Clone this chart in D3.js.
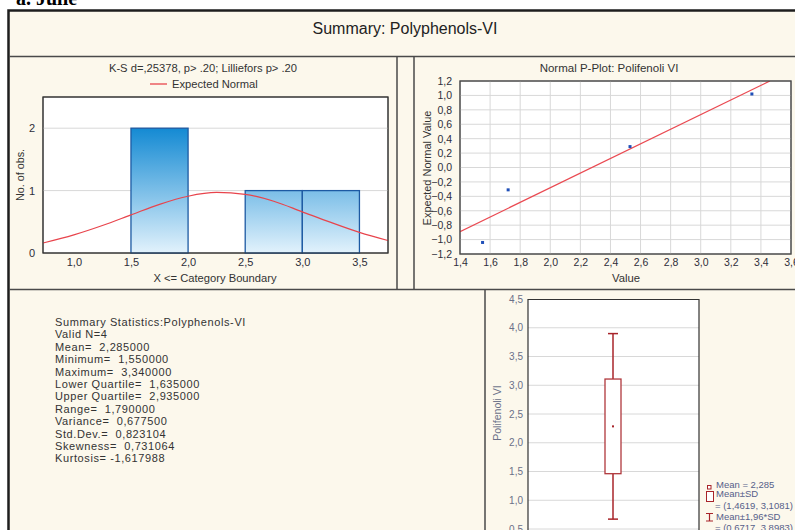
<!DOCTYPE html>
<html lang="en">
<head><meta charset="utf-8"/>
<script src="https://cdn.jsdelivr.net/npm/d3@7/dist/d3.min.js"></script>
<style>
body { margin:0; background:#fff; }
text { font-family: "Liberation Sans", Arial, sans-serif; white-space: pre; }
.grid line { stroke:#d8d8d8; stroke-width:1; }
.frame { fill:#fff; stroke:#333; stroke-width:1; }
.sep { stroke:#4a4a4a; stroke-width:1.5; }
</style>
</head>
<body>
<svg id="chart" width="795" height="530"></svg>
<script>

// histogram
var binLo = [1.5, 2.5, 3.0];
var binHi = [2.0, 3.0, 3.5];
var binCount = [2, 1, 1];
var histTicksX = [1.0, 1.5, 2.0, 2.5, 3.0, 3.5];
var histTicksY = [0, 1, 2];
// expected normal curve
var normX = [0.73, 1.0, 1.25, 1.5, 1.75, 2.0, 2.25, 2.5, 2.75, 3.0, 3.25, 3.5, 3.75];
var normY = [0.16, 0.29, 0.44, 0.61, 0.78, 0.91, 0.97, 0.94, 0.83, 0.66, 0.49, 0.33, 0.20];

// normal p-plot
var obsValue = [1.55, 1.72, 2.53, 3.34];
var expNormal = [-1.04, -0.31, 0.29, 1.02];
var fitX = [1.4, 3.46];
var fitY = [-0.89, 1.2];
var ppTicksX = [1.4, 1.6, 1.8, 2.0, 2.2, 2.4, 2.6, 2.8, 3.0, 3.2, 3.4, 3.6];
var ppTicksY = [-1.2, -1.0, -0.8, -0.6, -0.4, -0.2, 0.0, 0.2, 0.4, 0.6, 0.8, 1.0, 1.2];

// box plot
var boxMean = 2.285;
var boxSD = [1.4619, 3.1081];
var boxCI = [0.6717, 3.8983];
var boxTicksY = [0.5, 1.0, 1.5, 2.0, 2.5, 3.0, 3.5, 4.0, 4.5];
var legendLines = ["Mean = 2,285", "Mean\u00b1SD", "= (1,4619, 3,1081)", "Mean\u00b11,96*SD", "= (0,6717, 3,8983)"];

var statLines = [
	"Summary Statistics:Polyphenols-VI",
	"Valid N=4",
	"Mean=  2,285000",
	"Minimum=  1,550000",
	"Maximum=  3,340000",
	"Lower Quartile=  1,635000",
	"Upper Quartile=  2,935000",
	"Range=  1,790000",
	"Variance=  0,677500",
	"Std.Dev.=  0,823104",
	"Skewness=  0,731064",
	"Kurtosis= -1,617988"
];

var loc = d3.formatLocale({decimal: ",", thousands: ".", grouping: [3], currency: ["", ""]});
var f1 = loc.format(".1f");

var svg = d3.select("#chart");
var cream = "#fcf8ec";

// caption cut off at the top
svg.append("text").attr("x", 16).attr("y", 5)
	.style("font-family", "'Liberation Serif', serif").style("font-size", "20px").style("font-weight", "bold")
	.text("a. Julie");

// outer frame and panels
svg.append("rect").attr("x", 8).attr("y", 10).attr("width", 790).attr("height", 525).attr("fill", cream);
svg.append("path").attr("d", "M8.5,532V10.5H800").attr("fill", "none").attr("stroke", "#1e1e1e").attr("stroke-width", 2.5);
svg.append("line").attr("class", "sep").attr("x1", 9).attr("x2", 795).attr("y1", 56.5).attr("y2", 56.5);
svg.append("line").attr("class", "sep").attr("x1", 397).attr("x2", 397).attr("y1", 56).attr("y2", 289);
svg.append("line").attr("class", "sep").attr("x1", 414).attr("x2", 414).attr("y1", 56).attr("y2", 289);
svg.append("line").attr("class", "sep").attr("x1", 9).attr("x2", 795).attr("y1", 289.5).attr("y2", 289.5);
svg.append("line").attr("class", "sep").attr("x1", 485).attr("x2", 485).attr("y1", 289).attr("y2", 530);

svg.append("text").attr("x", 405).attr("y", 34).attr("text-anchor", "middle")
	.style("font-size", "16px").attr("fill", "#222").text("Summary: Polyphenols-VI");

// ---------- histogram ----------
var hx = d3.scaleLinear().domain([0.73, 3.75]).range([43, 388]);
var hy = d3.scaleLinear().domain([0, 2.5]).range([253, 97]);

var defs = svg.append("defs");
var grad = defs.append("linearGradient").attr("id", "barGrad")
	.attr("gradientUnits", "userSpaceOnUse")
	.attr("x1", 0).attr("x2", 0).attr("y1", hy(2)).attr("y2", hy(0));
grad.append("stop").attr("offset", "0%").attr("stop-color", "#148ad3");
grad.append("stop").attr("offset", "100%").attr("stop-color", "#e2f2fc");
defs.append("clipPath").attr("id", "hclip").append("rect")
	.attr("x", hx.range()[0]).attr("y", hy.range()[1])
	.attr("width", hx.range()[1] - hx.range()[0]).attr("height", hy.range()[0] - hy.range()[1]);

svg.append("rect").attr("class", "frame").attr("x", hx.range()[0]).attr("y", hy.range()[1])
	.attr("width", hx.range()[1] - hx.range()[0]).attr("height", hy.range()[0] - hy.range()[1]);

svg.append("g").attr("class", "grid")
	.selectAll("line").data(histTicksY.filter(d => d > 0)).enter().append("line")
	.attr("x1", hx.range()[0]).attr("x2", hx.range()[1])
	.attr("y1", d => hy(d)).attr("y2", d => hy(d));

svg.append("g").selectAll("rect").data(binCount).enter().append("rect")
	.attr("x", (d, i) => hx(binLo[i]))
	.attr("width", (d, i) => hx(binHi[i]) - hx(binLo[i]))
	.attr("y", d => hy(d))
	.attr("height", d => hy(0) - hy(d))
	.attr("fill", "url(#barGrad)").attr("stroke", "#1d5aa3").attr("stroke-width", 1.3);

var normLine = d3.line().curve(d3.curveMonotoneX)
	.x((d, i) => hx(normX[i])).y(d => hy(d));
svg.append("path").attr("d", normLine(normY)).attr("clip-path", "url(#hclip)")
	.attr("fill", "none").attr("stroke", "#e8444c").attr("stroke-width", 1.2);

svg.append("rect").attr("x", hx.range()[0]).attr("y", hy.range()[1])
	.attr("width", hx.range()[1] - hx.range()[0]).attr("height", hy.range()[0] - hy.range()[1])
	.attr("fill", "none").attr("stroke", "#333");

var hax = svg.append("g").attr("transform", "translate(0," + hy(0) + ")")
	.call(d3.axisBottom(hx).tickValues(histTicksX).tickFormat(f1).tickSize(0).tickPadding(5));
hax.select(".domain").remove();
var hay = svg.append("g").attr("transform", "translate(" + hx.range()[0] + ",0)")
	.call(d3.axisLeft(hy).tickValues(histTicksY).tickFormat(d3.format("d")).tickSize(0).tickPadding(8));
hay.select(".domain").remove();
svg.selectAll(".tick text").style("font-size", "11px").attr("fill", "#2e2e3a");

svg.append("text").attr("x", 203).attr("y", 72).attr("text-anchor", "middle")
	.style("font-size", "11.2px").attr("fill", "#333").text("K-S d=,25378, p> .20; Lilliefors p> .20");
svg.append("line").attr("x1", 150).attr("x2", 167).attr("y1", 84).attr("y2", 84)
	.attr("stroke", "#e8444c").attr("stroke-width", 1.3);
svg.append("text").attr("x", 172).attr("y", 88)
	.style("font-size", "11.2px").attr("fill", "#333").text("Expected Normal");
svg.append("text").attr("transform", "translate(24,175) rotate(-90)").attr("text-anchor", "middle")
	.style("font-size", "10.8px").attr("fill", "#333").text("No. of obs.");
svg.append("text").attr("x", 215).attr("y", 281.5).attr("text-anchor", "middle")
	.style("font-size", "11.2px").attr("fill", "#333").text("X <= Category Boundary");

// ---------- normal p-plot ----------
var px = d3.scaleLinear().domain([1.4, 3.6]).range([460, 791]);
var py = d3.scaleLinear().domain([-1.2, 1.2]).range([254, 81]);

defs.append("clipPath").attr("id", "pclip").append("rect")
	.attr("x", px.range()[0]).attr("y", py.range()[1])
	.attr("width", px.range()[1] - px.range()[0]).attr("height", py.range()[0] - py.range()[1]);

svg.append("rect").attr("class", "frame").attr("x", px.range()[0]).attr("y", py.range()[1])
	.attr("width", px.range()[1] - px.range()[0]).attr("height", py.range()[0] - py.range()[1]);
var pg = svg.append("g").attr("class", "grid");
pg.selectAll(".vx").data(ppTicksX).enter().append("line")
	.attr("x1", d => px(d)).attr("x2", d => px(d)).attr("y1", py.range()[0]).attr("y2", py.range()[1]);
pg.selectAll(".hy").data(ppTicksY).enter().append("line")
	.attr("x1", px.range()[0]).attr("x2", px.range()[1]).attr("y1", d => py(d)).attr("y2", d => py(d));

svg.append("path").attr("clip-path", "url(#pclip)")
	.attr("d", d3.line().x((d, i) => px(fitX[i])).y(d => py(d))(fitY))
	.attr("stroke", "#ea4a52").attr("stroke-width", 1.3).attr("fill", "none");

svg.append("g").selectAll("rect").data(obsValue).enter().append("rect")
	.attr("x", d => px(d) - 1.5).attr("y", (d, i) => py(expNormal[i]) - 1.5)
	.attr("width", 3).attr("height", 3).attr("fill", "#1f4fb8");

svg.append("rect").attr("x", px.range()[0]).attr("y", py.range()[1])
	.attr("width", px.range()[1] - px.range()[0]).attr("height", py.range()[0] - py.range()[1])
	.attr("fill", "none").attr("stroke", "#333");

var pax = svg.append("g").attr("transform", "translate(0," + py(-1.2) + ")")
	.call(d3.axisBottom(px).tickValues(ppTicksX).tickFormat(f1).tickSize(0).tickPadding(5));
pax.select(".domain").remove();
var pay = svg.append("g").attr("transform", "translate(" + px.range()[0] + ",0)")
	.call(d3.axisLeft(py).tickValues(ppTicksY).tickFormat(f1).tickSize(0).tickPadding(8));
pay.select(".domain").remove();
pax.selectAll("text").style("font-size", "10.5px").attr("fill", "#2e2e3a");
pay.selectAll("text").style("font-size", "10.5px").attr("fill", "#2e2e3a");

svg.append("text").attr("x", 609).attr("y", 72).attr("text-anchor", "middle")
	.style("font-size", "11.5px").attr("fill", "#333").text("Normal P-Plot: Polifenoli VI");
svg.append("text").attr("transform", "translate(431,168) rotate(-90)").attr("text-anchor", "middle")
	.style("font-size", "11px").attr("fill", "#333").text("Expected Normal Value");
svg.append("text").attr("x", 626).attr("y", 281.5).attr("text-anchor", "middle")
	.style("font-size", "11.3px").attr("fill", "#333").text("Value");

// ---------- summary statistics text ----------
svg.append("g").selectAll("text").data(statLines).enter().append("text")
	.attr("x", 55).attr("y", (d, i) => 326 + i * 12.4)
	.style("font-size", "11px").style("letter-spacing", "0.6px")
	.attr("fill", "#333").text(d => d);

// ---------- box plot ----------
var by = d3.scaleLinear().domain([0.5, 4.5]).range([529, 299]);
var bx0 = 528, bx1 = 699, bc = 613;

svg.append("rect").attr("x", bx0).attr("y", by(4.5)).attr("width", bx1 - bx0).attr("height", 240)
	.attr("fill", "#fff");
svg.append("g").attr("class", "grid").selectAll("line").data(boxTicksY.filter(d => d < 4.5)).enter().append("line")
	.attr("x1", bx0).attr("x2", bx1).attr("y1", d => by(d)).attr("y2", d => by(d));
svg.append("path").attr("d", "M" + bx0 + ",540V" + (by(4.5) + 0.5) + "H" + bx1 + "V540")
	.attr("fill", "none").attr("stroke", "#333").attr("stroke-width", 1.2);

var red = "#a8242a";
var bplot = svg.append("g");
bplot.append("line").attr("x1", bc).attr("x2", bc).attr("y1", by(boxCI[1])).attr("y2", by(boxSD[1]))
	.attr("stroke", red).attr("stroke-width", 1.5);
bplot.append("line").attr("x1", bc).attr("x2", bc).attr("y1", by(boxSD[0])).attr("y2", by(boxCI[0]))
	.attr("stroke", red).attr("stroke-width", 1.5);
bplot.selectAll(".cap").data(boxCI).enter().append("line")
	.attr("x1", bc - 5).attr("x2", bc + 5).attr("y1", d => by(d)).attr("y2", d => by(d))
	.attr("stroke", red).attr("stroke-width", 1.5);
bplot.append("rect").attr("x", bc - 8).attr("width", 16)
	.attr("y", by(boxSD[1])).attr("height", by(boxSD[0]) - by(boxSD[1]))
	.attr("fill", "#fff").attr("stroke", "#b0383c").attr("stroke-width", 1.3);
bplot.append("rect").attr("x", bc - 1).attr("y", by(boxMean) - 1).attr("width", 2).attr("height", 2)
	.attr("fill", red);

var bay = svg.append("g").attr("transform", "translate(" + bx0 + ",0)")
	.call(d3.axisLeft(by).tickValues(boxTicksY).tickFormat(f1).tickSize(0).tickPadding(5));
bay.select(".domain").remove();
bay.selectAll("text").style("font-size", "10px").attr("fill", "#6a7088");

svg.append("text").attr("transform", "translate(501,413) rotate(-90)").attr("text-anchor", "middle")
	.style("font-size", "10.5px").attr("fill", "#6a7088").text("Polifenoli VI");

// legend
var lg = svg.append("g");
lg.append("rect").attr("x", 707.5).attr("y", 485.5).attr("width", 3.5).attr("height", 3.5)
	.attr("fill", "#fff").attr("stroke", red);
lg.append("rect").attr("x", 706.5).attr("y", 491.5).attr("width", 7).attr("height", 10)
	.attr("fill", "#fff").attr("stroke", red);
lg.append("path").attr("d", "M706,513.5H713M709.5,513.5V521M706,521H713")
	.attr("stroke", red).attr("stroke-width", 1.2).attr("fill", "none");
lg.selectAll("text").data(legendLines).enter().append("text")
	.attr("x", (d, i) => i == 2 || i == 4 ? 715 : 716)
	.attr("y", (d, i) => [487.5, 497, 509, 520, 531][i])
	.style("font-size", "9.5px").attr("fill", "#56608a").text(d => d);

</script>
</body>
</html>
